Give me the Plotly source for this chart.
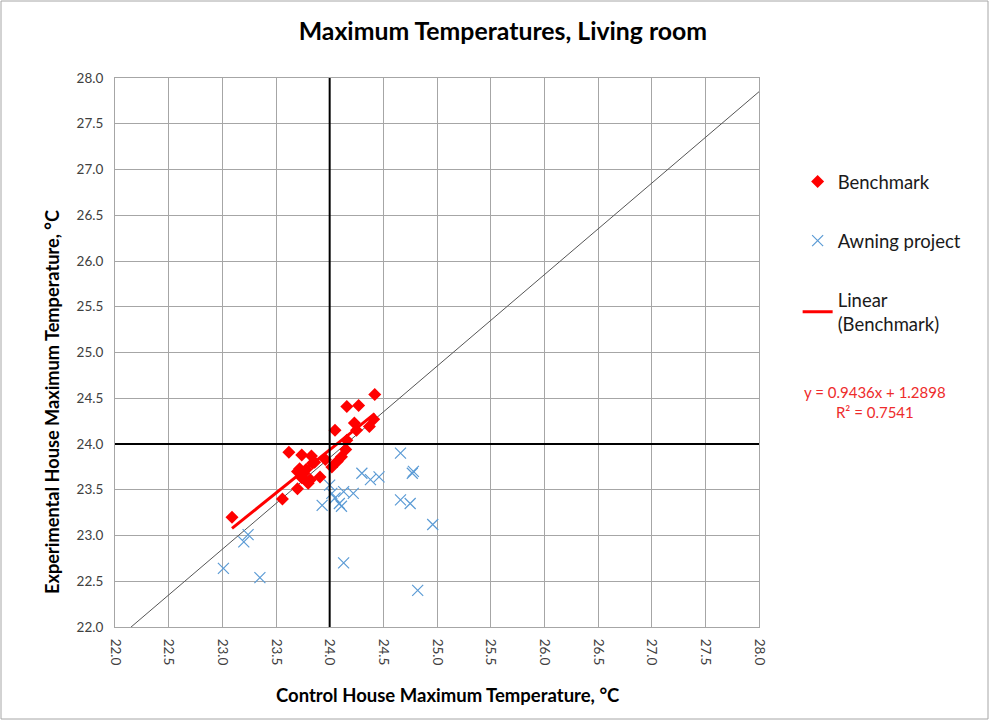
import plotly.graph_objects as go

# Benchmark (control vs experimental max temp)
bench_x = [23.09, 23.56, 23.62, 23.70, 23.70, 23.72, 23.74, 23.74, 23.76, 23.78,
           23.80, 23.82, 23.83, 23.84, 23.86, 23.91, 23.96, 24.02, 24.05, 24.07,
           24.11, 24.15, 24.16, 24.16, 24.23, 24.25, 24.27, 24.37, 24.41, 24.42]
bench_y = [23.20, 23.40, 23.91, 23.51, 23.70, 23.73, 23.88, 23.63, 23.68, 23.72,
           23.57, 23.61, 23.87, 23.79, 23.80, 23.64, 23.83, 23.75, 24.15, 23.81,
           23.86, 23.94, 24.04, 24.41, 24.23, 24.15, 24.42, 24.19, 24.27, 24.54]

# Awning project
awn_x = [23.01, 23.20, 23.24, 23.35, 23.93, 24.00, 24.02, 24.05, 24.09, 24.11,
         24.13, 24.13, 24.22, 24.30, 24.38, 24.46, 24.66, 24.66, 24.75, 24.77,
         24.78, 24.82, 24.96]
awn_y = [22.64, 22.93, 23.01, 22.54, 23.33, 23.55, 23.46, 23.41, 23.35, 23.32,
         23.48, 22.70, 23.46, 23.68, 23.61, 23.64, 23.90, 23.39, 23.35, 23.68,
         23.70, 22.40, 23.12]

# linear trend of benchmark (from the chart label)
slope = 0.9436
intercept = 1.2898
r2 = 0.7541

# reference lines
ref_x = 24.0
ref_y = 24.0
diag_x = [22.0, 28.0]
diag_y = [21.85, 27.85]

tick_vals = [22.0 + 0.5 * i for i in range(13)]
tick_text = ["%.1f" % v for v in tick_vals]

trend_x = [min(bench_x), max(bench_x)]
trend_y = [slope * v + intercept for v in trend_x]

FONT = "Lato, Carlito, Calibri, sans-serif"

fig = go.Figure()

fig.add_trace(go.Scatter(x=diag_x, y=diag_y, mode="lines",
                         line=dict(color="#555555", width=1),
                         showlegend=False, hoverinfo="skip"))

fig.add_trace(go.Scatter(x=awn_x, y=awn_y, mode="markers", name="Awning project",
                         legendgroup="b", legendrank=2,
                         marker=dict(symbol="x-thin-open", size=11, color="#5b9bd5",
                                     line=dict(color="#5b9bd5", width=1.2))))

fig.add_trace(go.Scatter(x=bench_x, y=bench_y, mode="markers", name="Benchmark",
                         legendgroup="a", legendrank=1,
                         marker=dict(symbol="diamond", size=10, color="#ff0000")))

fig.add_trace(go.Scatter(x=trend_x, y=trend_y, mode="lines",
                         name="Linear<br>(Benchmark)", legendgroup="c", legendrank=3,
                         line=dict(color="#ff0000", width=3)))

fig.add_shape(type="line", x0=ref_x, x1=ref_x, y0=22, y1=28,
              line=dict(color="black", width=2), layer="above")
fig.add_shape(type="line", x0=22, x1=28, y0=ref_y, y1=ref_y,
              line=dict(color="black", width=2), layer="above")

# outer chart border
fig.add_shape(type="rect", xref="paper", yref="paper",
              x0=(1 - 115) / 644, x1=(988 - 115) / 644,
              y0=(627 - 719) / 549, y1=(627 - 1) / 549,
              line=dict(color="#a6a6a6", width=1))

fig.add_annotation(xref="paper", yref="paper", x=1.18, y=0.409,
                   xanchor="center", yanchor="middle",
                   text="y = %.4fx + %.4f<br>R² = %.4f" % (slope, intercept, r2),
                   showarrow=False, align="center",
                   font=dict(family=FONT, size=15, color="#ee2b2b"))

# axis titles (placed like the original, a bit off-centre)
fig.add_annotation(xref="paper", yref="paper", x=0.517, y=-0.124,
                   xanchor="center", yanchor="middle", showarrow=False,
                   text="<b>Control House Maximum Temperature, °C</b>",
                   font=dict(family=FONT, size=18.5, color="black"))
fig.add_annotation(xref="paper", yref="paper", x=-0.0978, y=0.41,
                   xanchor="center", yanchor="middle", showarrow=False,
                   textangle=-90,
                   text="<b>Experimental House Maximum Temperature, °C</b>",
                   font=dict(family=FONT, size=18.2, color="black"))

axis_common = dict(range=[22, 28], tickvals=tick_vals, ticktext=tick_text,
                   showgrid=True, gridcolor="#a6a6a6", gridwidth=1,
                   showline=True, linecolor="#a6a6a6", linewidth=1, mirror=True,
                   zeroline=False, ticks="", ticklabelstandoff=8,
                   tickfont=dict(family=FONT, size=13.5, color="#404040"))

fig.update_xaxes(**axis_common, tickangle=90)
fig.update_yaxes(**axis_common)

fig.update_layout(
    width=990, height=721,
    margin=dict(l=115, r=231, t=78, b=94),
    paper_bgcolor="white", plot_bgcolor="white",
    title=dict(text="<b>Maximum Temperatures, Living room</b>", x=0.508, y=0.957,
               xanchor="center", yanchor="middle",
               font=dict(family=FONT, size=24.8, color="black")),
    legend=dict(x=1.06, y=0.845, xanchor="left", yanchor="top",
                traceorder="grouped", tracegroupgap=32,
                font=dict(family=FONT, size=18.5, color="#1a1a1a"),
                bgcolor="rgba(0,0,0,0)"),
    showlegend=True,
)

fig.write_html("out.html", config={"displayModeBar": False},
               post_script="document.body.style.margin='0px';")
